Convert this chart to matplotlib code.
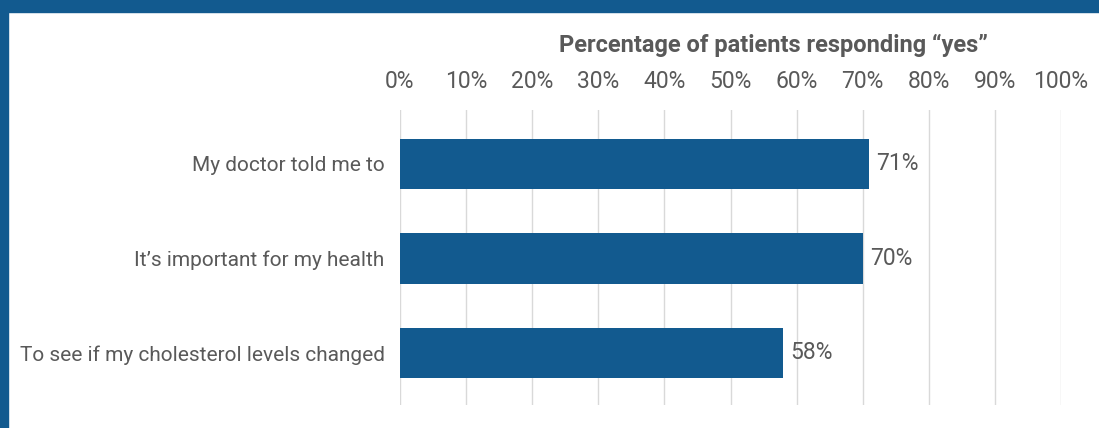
import matplotlib.pyplot as plt
from matplotlib.patches import Rectangle
from matplotlib.ticker import PercentFormatter

categories = ["My doctor told me to", "It\u2019s important for my health",
              "To see if my cholesterol levels changed"]
values = [71, 70, 58]
ticks = list(range(0, 101, 10))

blue = '#125A8F'
grey = '#595959'

plt.rcParams['font.family'] = ['Roboto', 'DejaVu Sans']

W, H = 1099, 428
fig = plt.figure(figsize=(W / 100, H / 100), dpi=100)
ax = fig.add_axes([400 / W, 1 - 405 / H, 661 / W, 295 / H])

y = list(range(len(categories)))
bars = ax.barh(y, values, height=0.53, color=blue, zorder=3)
for b, v in zip(bars, values):
    ax.text(v + 1.1, b.get_y() + b.get_height() / 2, f"{v}%", va='center', ha='left',
            fontsize=16.5, color=grey)

ax.set_xlim(0, 100)
ax.set_ylim(2.55, -0.57)
ax.set_xticks(ticks)
ax.xaxis.set_major_formatter(PercentFormatter(decimals=0))
ax.xaxis.tick_top()
ax.set_yticks(y)
ax.set_yticklabels(categories)
ax.tick_params(axis='x', length=0, labelsize=16.5, labelcolor=grey, pad=12)
ax.tick_params(axis='y', length=0, labelsize=15, labelcolor=grey, pad=11)
ax.grid(axis='x', color='#D9D9D9', linewidth=1, zorder=0)
for s in ax.spines.values():
    s.set_visible(False)

fig.text(773 / W, 1 - 45 / H, "Percentage of patients responding \u201cyes\u201d",
         ha='center', va='center', fontsize=17, fontweight='bold', color=grey)

# frame strips on top and left
fig.patches.append(Rectangle((0, 1 - 12 / H), 1, 12 / H, transform=fig.transFigure,
                             color=blue, zorder=-1))
fig.patches.append(Rectangle((0, 0), 8 / W, 1, transform=fig.transFigure,
                             color=blue, zorder=-1))

fig.savefig('out.png', dpi=100)
